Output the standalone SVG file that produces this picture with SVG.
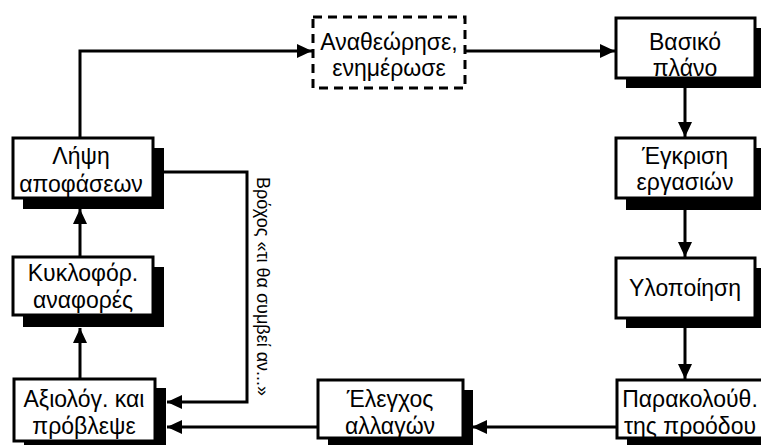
<svg xmlns="http://www.w3.org/2000/svg" width="761" height="445" viewBox="0 0 761 445">
<style>
.box{fill:#fff;stroke:#000;stroke-width:3}
.sh{fill:#000}
.dash{fill:#fff;stroke:#000;stroke-width:3;stroke-dasharray:9 6}
.t{font-family:"Liberation Sans",Arial,sans-serif;font-size:23px;fill:#000;text-anchor:middle}
.c{fill:none;stroke:#000;stroke-width:3}
.v{font-family:"Liberation Sans",Arial,sans-serif;font-size:18px;fill:#000}
</style>
<defs>
<marker id="ah" markerUnits="userSpaceOnUse" markerWidth="16" markerHeight="16" viewBox="0 0 16 16" refX="15" refY="8" orient="auto">
<path d="M0,1 L15,8 L0,15 Z" fill="#000"/>
</marker>
</defs>
<rect width="761" height="445" fill="#fff"/>
<g id="connectors">
<path class="c" d="M80,138 V51 H312" marker-end="url(#ah)"/>
<path class="c" d="M466,51 H615" marker-end="url(#ah)"/>
<path class="c" d="M685,88 V137" marker-end="url(#ah)"/>
<path class="c" d="M685,208 V257" marker-end="url(#ah)"/>
<path class="c" d="M685,328 V379" marker-end="url(#ah)"/>
<path class="c" d="M617,427 H472" marker-end="url(#ah)"/>
<path class="c" d="M318,427 H167" marker-end="url(#ah)"/>
<path class="c" d="M80,378 V328" marker-end="url(#ah)"/>
<path class="c" d="M80,257 V209" marker-end="url(#ah)"/>
<path class="c" d="M153,172 H247 V402 H167" marker-end="url(#ah)"/>
<text class="v" transform="translate(257,177) rotate(90)">Βρόχος «τι θα συμβεί αν...»</text>
</g>
<g id="n-review">
<rect class="dash" x="313" y="17" width="152" height="71"/>
<text class="t" x="389" y="50">Αναθεώρησε,</text>
<text class="t" x="389" y="76">ενημέρωσε</text>
</g>
<g id="n-basic">
<rect class="sh" x="626" y="28" width="140" height="60"/>
<rect class="box" x="616" y="18" width="139" height="60"/>
<text class="t" x="685" y="50">Βασικό</text>
<text class="t" x="685" y="76">πλάνο</text>
</g>
<g id="n-approve">
<rect class="sh" x="626" y="148" width="140" height="62"/>
<rect class="box" x="616" y="138" width="139" height="60"/>
<text class="t" x="685" y="164">Έγκριση</text>
<text class="t" x="685" y="190">εργασιών</text>
</g>
<g id="n-impl">
<rect class="sh" x="626" y="268" width="140" height="60"/>
<rect class="box" x="616" y="258" width="139" height="60"/>
<text class="t" x="685" y="296">Υλοποίηση</text>
</g>
<g id="n-monitor">
<rect class="sh" x="627" y="390" width="140" height="60"/>
<rect class="box" x="617" y="380" width="150" height="58"/>
<text class="t" x="690" y="407">Παρακολούθ.</text>
<text class="t" x="690" y="434">της προόδου</text>
</g>
<g id="n-change">
<rect class="sh" x="328" y="390" width="145" height="58"/>
<rect class="box" x="318" y="380" width="145" height="58"/>
<text class="t" x="390" y="407">Έλεγχος</text>
<text class="t" x="390" y="434">αλλαγών</text>
</g>
<g id="n-evaluate">
<rect class="sh" x="24" y="388" width="142" height="62"/>
<rect class="box" x="14" y="379" width="141" height="62"/>
<text class="t" x="84" y="407">Αξιολόγ. και</text>
<text class="t" x="84" y="434">πρόβλεψε</text>
</g>
<g id="n-reports">
<rect class="sh" x="23" y="267" width="141" height="60"/>
<rect class="box" x="13" y="257" width="140" height="58"/>
<text class="t" x="83" y="281">Κυκλοφόρ.</text>
<text class="t" x="83" y="308">αναφορές</text>
</g>
<g id="n-decide">
<rect class="sh" x="23" y="148" width="141" height="61"/>
<rect class="box" x="13" y="138" width="140" height="60"/>
<text class="t" x="81" y="164">Λήψη</text>
<text class="t" x="81" y="192">αποφάσεων</text>
</g>
</svg>
